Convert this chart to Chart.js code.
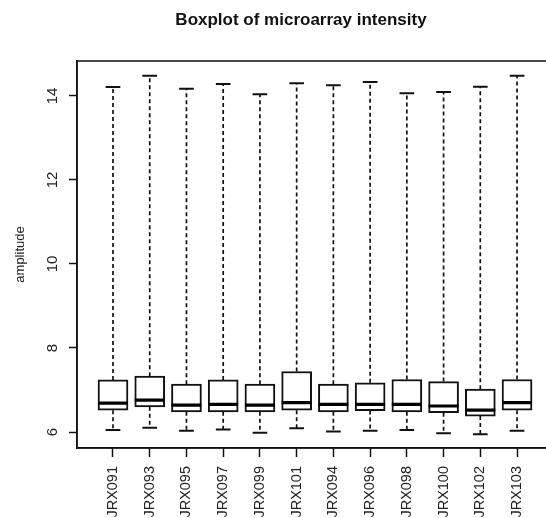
<!DOCTYPE html>
<html><head><meta charset="utf-8">
<script src="https://cdn.jsdelivr.net/npm/chart.js@4/dist/chart.umd.min.js"></script>
<style>html,body{margin:0;padding:0;overflow:hidden;background:#fff;width:546px;height:518px}</style>
</head><body>
<canvas id="c" width="602" height="518" style="display:block;width:602px;height:518px"></canvas>
<script>
const categories = ['JRX091','JRX093','JRX095','JRX097','JRX099','JRX101','JRX094','JRX096','JRX098','JRX100','JRX102','JRX103'];
const whiskerLow  = [6.05, 6.10, 6.03, 6.06, 5.98, 6.09, 6.01, 6.03, 6.05, 5.97, 5.95, 6.03];
const quartile1   = [6.52, 6.60, 6.48, 6.48, 6.48, 6.52, 6.48, 6.51, 6.48, 6.46, 6.38, 6.52];
const medians     = [6.69, 6.76, 6.64, 6.66, 6.64, 6.70, 6.66, 6.66, 6.66, 6.62, 6.52, 6.70];
const quartile3   = [7.24, 7.33, 7.14, 7.24, 7.14, 7.44, 7.14, 7.17, 7.25, 7.20, 7.02, 7.25];
const whiskerHigh = [14.21, 14.48, 14.17, 14.28, 14.04, 14.30, 14.25, 14.33, 14.06, 14.09, 14.22, 14.48];
const yTicks = [6, 8, 10, 12, 14];

const FONT = '"Liberation Sans", Arial, sans-serif';
const capHalf = 0.2, boxHalf = 0.408;

const whiskerPts = [], capPts = [], medPts = [];
categories.forEach((c, i) => {
  const x = i + 1;
  whiskerPts.push({x, y: quartile3[i]}, {x, y: whiskerHigh[i]}, {x, y: null});
  whiskerPts.push({x, y: quartile1[i]}, {x, y: whiskerLow[i]}, {x, y: null});
  capPts.push({x: x - capHalf, y: whiskerHigh[i]}, {x: x + capHalf, y: whiskerHigh[i]}, {x, y: null});
  capPts.push({x: x - capHalf, y: whiskerLow[i]}, {x: x + capHalf, y: whiskerLow[i]}, {x, y: null});
  medPts.push({x: x - boxHalf, y: medians[i]}, {x: x + boxHalf, y: medians[i]}, {x, y: null});
});

const framePlugin = {
  id: 'frame',
  afterDatasetsDraw(chart) {
    const a = chart.chartArea, ctx = chart.ctx;
    ctx.save();
    ctx.strokeStyle = '#111';
    ctx.lineWidth = 1.5;
    ctx.strokeRect(a.left, a.top, a.right - a.left, a.bottom - a.top);
    ctx.restore();
  }
};

new Chart(document.getElementById('c'), {
  type: 'bar',
  data: {
    datasets: [
      {type: 'line', label: 'median', data: medPts, borderColor: '#000', borderWidth: 3.2,
       pointRadius: 0, spanGaps: false, order: 0, borderCapStyle: 'butt'},
      {type: 'bar', label: 'box', data: categories.map((c, i) => ({x: i + 1, y: [quartile1[i], quartile3[i]]})),
       backgroundColor: '#fff', borderColor: '#111', borderWidth: 2, borderSkipped: false,
       barThickness: 30, order: 1},
      {type: 'line', label: 'whisker', data: whiskerPts, borderColor: '#111', borderWidth: 1.7,
       borderDash: [4, 3], pointRadius: 0, spanGaps: false, order: 2, borderCapStyle: 'butt'},
      {type: 'line', label: 'cap', data: capPts, borderColor: '#111', borderWidth: 2,
       pointRadius: 0, spanGaps: false, order: 2, borderCapStyle: 'butt'}
    ]
  },
  options: {
    responsive: false,
    animation: false,
    layout: {padding: 0},
    plugins: {
      legend: {display: false},
      tooltip: {enabled: false},
      title: {display: true, text: 'Boxplot of microarray intensity', color: '#111',
              font: {family: FONT, size: 17, weight: 'bold'}, padding: {top: 10, bottom: 30.6}}
    },
    scales: {
      x: {
        type: 'linear', min: 0.02, max: 14.313, offset: false,
        afterBuildTicks: s => { s.ticks = categories.map((c, i) => ({value: i + 1})); },
        afterFit: s => { s.height = 70; },
        grid: {drawOnChartArea: false, offset: false, drawTicks: true, tickLength: 9, tickWidth: 1.5, tickColor: '#111'},
        border: {display: true, color: '#111', width: 1.5},
        ticks: {autoSkip: false, minRotation: 90, maxRotation: 90, padding: 9, color: '#222',
                font: {family: FONT, size: 14.5},
                callback: v => categories[v - 1]}
      },
      y: {
        type: 'linear', min: 5.62, max: 14.83,
        afterBuildTicks: s => { s.ticks = yTicks.map(v => ({value: v})); },
        afterFit: s => { s.width = 77; },
        grid: {drawOnChartArea: false, drawTicks: true, tickLength: 8, tickWidth: 1.5, tickColor: '#111'},
        border: {display: true, color: '#111', width: 1.5},
        ticks: {minRotation: 90, maxRotation: 90, crossAlign: 'center', padding: 8, color: '#222',
                font: {family: FONT, size: 15}},
        title: {display: true, text: 'amplitude', color: '#222', font: {family: FONT, size: 13},
                padding: {top: 13, bottom: 4}}
      }
    }
  },
  plugins: [framePlugin]
});
</script>
</body></html>
